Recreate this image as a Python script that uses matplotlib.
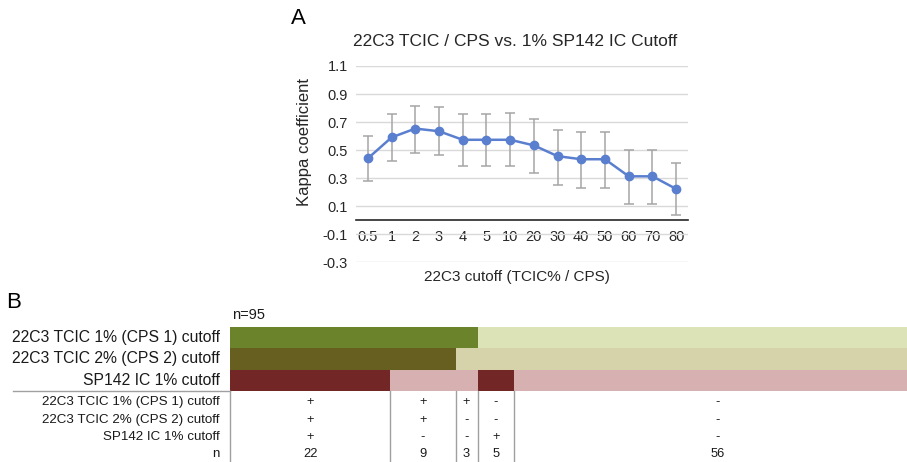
import matplotlib
matplotlib.use("Agg")
import matplotlib.pyplot as plt
import matplotlib.transforms as mtrans
import numpy as np

plt.rcParams['font.family'] = ['Liberation Sans', 'DejaVu Sans']

# ---------------- data: panel A ----------------
cutoffs = ['0.5', '1', '2', '3', '4', '5', '10', '20', '30', '40', '50', '60', '70', '80']
kappa = [0.44, 0.59, 0.653, 0.634, 0.573, 0.573, 0.573, 0.533, 0.456, 0.434, 0.434, 0.312, 0.312, 0.222]
ci_low = [0.281, 0.422, 0.481, 0.467, 0.387, 0.387, 0.387, 0.338, 0.251, 0.232, 0.232, 0.116, 0.116, 0.036]
ci_high = [0.599, 0.756, 0.815, 0.806, 0.756, 0.756, 0.763, 0.721, 0.641, 0.632, 0.632, 0.500, 0.500, 0.406]
y_ticks = [-0.3, -0.1, 0.1, 0.3, 0.5, 0.7, 0.9, 1.1]

# ---------------- data: panel B ----------------
row_labels = ['22C3 TCIC 1% (CPS 1) cutoff', '22C3 TCIC 2% (CPS 2) cutoff', 'SP142 IC 1% cutoff']
group_n = [22, 9, 3, 5, 56]
tcic1 = ['+', '+', '+', '-', '-']
tcic2 = ['+', '+', '-', '-', '-']
sp142 = ['+', '-', '-', '+', '-']
total_n = 95

W, H = 907, 462
fig = plt.figure(figsize=(W / 100, H / 100), dpi=100)

def fx(px):
    return px / W

def fy(py):
    return 1 - py / H

# ---------------- Panel A ----------------
ax = fig.add_axes([fx(356), fy(262), fx(688) - fx(356), fy(66) - fy(262)])
x = np.arange(len(cutoffs))
k = np.array(kappa)
yerr = np.vstack([k - np.array(ci_low), np.array(ci_high) - k])
ax.errorbar(x, k, yerr=yerr, fmt='none', ecolor='#a5a5a5', elinewidth=1.1,
            capsize=3.8, capthick=1.1, zorder=2)
ax.plot(x, k, color='#5b7fcf', lw=1.8, marker='o', markersize=6,
        markerfacecolor='#5b7fcf', markeredgecolor='#5b7fcf', zorder=3)
ax.set_xlim(-0.5, len(cutoffs) - 0.5)
ax.set_ylim(-0.3, 1.1)
ax.set_yticks(y_ticks)
ax.set_yticklabels([f'{v:.1f}' for v in y_ticks])
ax.yaxis.grid(True, color='#d9d9d9', lw=1)
ax.set_axisbelow(True)
for s in ['top', 'right', 'left']:
    ax.spines[s].set_visible(False)
ax.spines['bottom'].set_position(('data', 0))
ax.spines['bottom'].set_color('#262626')
ax.spines['bottom'].set_linewidth(1.2)
ax.set_xticks(x)
ax.set_xticklabels(cutoffs)
ax.tick_params(axis='x', length=0, pad=7, labelsize=10.5, colors='#262626')
ax.tick_params(axis='y', length=0, pad=6, labelsize=10.5, colors='#262626')

fig.text(fx(298), fy(18), 'A', fontsize=16, ha='center', va='center')
fig.text(fx(515), fy(42), '22C3 TCIC / CPS vs. 1% SP142 IC Cutoff', fontsize=12.5,
         ha='center', va='center', color='#262626')
fig.text(fx(304), fy(142), 'Kappa coefficient', fontsize=12, rotation=90,
         ha='center', va='center', color='#262626')
fig.text(fx(517), fy(277), '22C3 cutoff (TCIC% / CPS)', fontsize=11,
         ha='center', va='center', color='#262626')

# ---------------- Panel B ----------------
axb = fig.add_axes([fx(230), 0, 1 - fx(230), fy(327)])
unit_px = (391 - 327) / 3.0
y_bottom = (H - 327) / unit_px
axb.set_xlim(0, (W - 230) / 7.28)
axb.set_ylim(y_bottom, 0)
axb.axis('off')

row_status = [tcic1, tcic2, sp142]
row_colors = [('#6b832a', '#dce4b7'), ('#665f20', '#d6d2a9'), ('#722626', '#d7b1b1')]
lefts = np.concatenate([[0], np.cumsum(group_n)[:-1]])
for r, (status, (cpos, cneg)) in enumerate(zip(row_status, row_colors)):
    for left, n, s in zip(lefts, group_n, status):
        axb.barh(r + 0.5, n, left=left, height=1.0,
                 color=cpos if s == '+' else cneg, edgecolor='none', clip_on=False)

# table
table_y = [3.52, 4.36, 5.16, 5.95]
table_rows = [tcic1, tcic2, sp142, [str(n) for n in group_n]]
table_labels = row_labels + ['n']
for ty, vals in zip(table_y, table_rows):
    for left, n, v in zip(lefts, group_n, vals):
        axb.text(left + n / 2, ty, v, ha='center', va='center', fontsize=9.3, color='#1a1a1a')

bounds = list(lefts) + [lefts[-1] + group_n[-1]]
for b in bounds[:-1]:
    axb.plot([b, b], [3, y_bottom], color='#a0a0a0', lw=1, clip_on=False)

tr = mtrans.blended_transform_factory(fig.transFigure, axb.transData)
for r, lab in enumerate(row_labels):
    axb.text(fx(220), r + 0.5, lab, transform=tr, ha='right', va='center',
             fontsize=11.3, color='#1a1a1a')
for ty, lab in zip(table_y, table_labels):
    axb.text(fx(220), ty, lab, transform=tr, ha='right', va='center',
             fontsize=9.6, color='#1a1a1a')
axb.plot([fx(13), fx(230)], [3, 3], transform=tr, color='#a0a0a0', lw=1, clip_on=False)

axb.text(0.3, -0.56, f'n={total_n}', ha='left', va='center', fontsize=10.5, color='#1a1a1a')
fig.text(fx(14), fy(303), 'B', fontsize=16, ha='center', va='center')

fig.savefig('out.png', dpi=100)
